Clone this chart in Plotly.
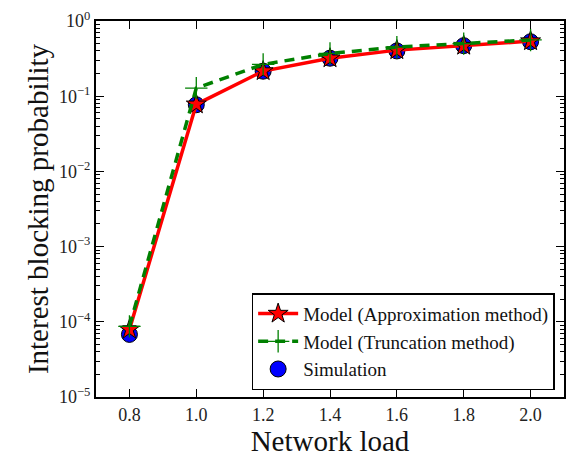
import plotly.graph_objects as go

load = [0.8, 1.0, 1.2, 1.4, 1.6, 1.8, 2.0]
approx = [7.9e-5, 0.078, 0.216, 0.32, 0.41, 0.47, 0.54]
trunc = [8.7e-5, 0.128, 0.265, 0.37, 0.45, 0.50, 0.56]
sim = [6.8e-5, 0.077, 0.215, 0.32, 0.40, 0.47, 0.53]
sim_err_up = [2.0e-5, 0.006, 0.01, 0.01, 0.01, 0.01, 0.01]
sim_err_dn = [0.5e-5, 0.006, 0.01, 0.01, 0.01, 0.01, 0.01]

ytick_vals = [1e-5, 1e-4, 1e-3, 1e-2, 1e-1, 1]
ytick_text = ["10<sup>−5</sup>", "10<sup>−4</sup>", "10<sup>−3</sup>",
              "10<sup>−2</sup>", "10<sup>−1</sup>", "10<sup>0</sup>"]
xtick_vals = [0.8, 1.0, 1.2, 1.4, 1.6, 1.8, 2.0]
xtick_text = ["0.8", "1.0", "1.2", "1.4", "1.6", "1.8", "2.0"]

FONT = "Liberation Serif, DejaVu Serif, serif"

fig = go.Figure()
fig.add_trace(go.Scatter(
    x=load, y=sim, mode="markers", name="Simulation", legendrank=3,
    marker=dict(symbol="circle", size=16, color="#0000ff",
                line=dict(color="black", width=1)),
    error_y=dict(type="data", array=sim_err_up, arrayminus=sim_err_dn,
                 color="black", thickness=1.5, width=7),
))
fig.add_trace(go.Scatter(
    x=load, y=approx, mode="lines+markers", name="Model (Approximation method)",
    legendrank=1,
    line=dict(color="#ff0000", width=3.5),
    marker=dict(symbol="star", size=15, color="#ff0000",
                line=dict(color="black", width=1)),
))
fig.add_trace(go.Scatter(
    x=load, y=trunc, mode="lines+markers", name="Model (Truncation method)",
    legendrank=2,
    line=dict(color="#008000", width=3.5, dash="10px,7px"),
    marker=dict(symbol="cross-thin", size=16, color="#008000",
                line=dict(color="#008000", width=1.3)),
))

axis_common = dict(showline=True, linecolor="black", linewidth=2, mirror="ticks",
                   ticks="inside", tickcolor="black", showgrid=False, zeroline=False,
                   tickfont=dict(family=FONT, size=18, color="#222"))

fig.update_xaxes(range=[0.7, 2.1], tickvals=xtick_vals, ticktext=xtick_text,
                 ticklen=8, tickwidth=1,
                 title=dict(text="Network load", font=dict(family=FONT, size=29, color="#111"),
                            standoff=4),
                 **axis_common)
fig.update_yaxes(type="log", range=[-5, 0], tickvals=ytick_vals, ticktext=ytick_text,
                 ticklen=8, tickwidth=1,
                 minor=dict(ticks="inside", ticklen=4, tickcolor="black", dtick="D1"),
                 title=dict(text="Interest blocking probability",
                            font=dict(family=FONT, size=29, color="#111"), standoff=2),
                 **axis_common)

fig.update_layout(
    width=575, height=458,
    margin=dict(l=96, r=9, t=14, b=61),
    paper_bgcolor="white", plot_bgcolor="white",
    showlegend=True,
    legend=dict(x=0.98, y=0.018, xanchor="right", yanchor="bottom",
                bgcolor="white", bordercolor="black", borderwidth=1.5,
                font=dict(family=FONT, size=19, color="#111"),
                tracegroupgap=0, itemwidth=40),
)

fig.write_html("out.html")
